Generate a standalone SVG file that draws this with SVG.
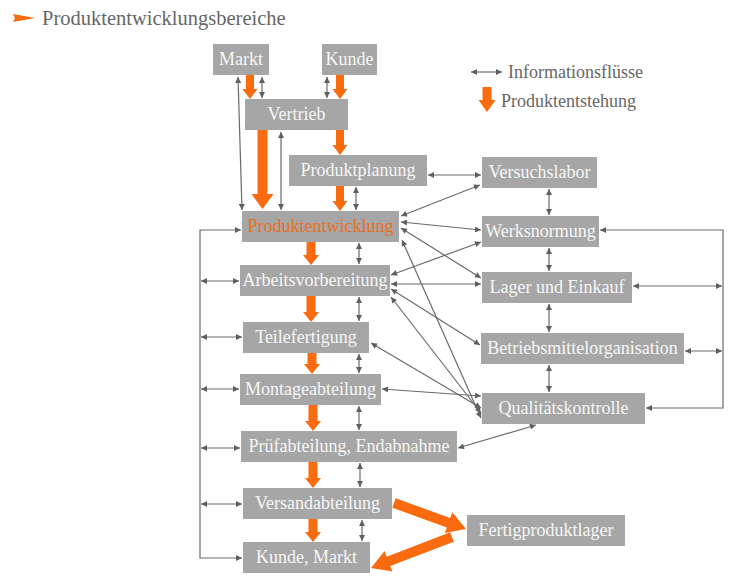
<svg xmlns="http://www.w3.org/2000/svg" width="750" height="580" viewBox="0 0 750 580">
<defs>
<style>
.box{fill:#a6a6a6}
.t{font-family:"Liberation Serif","Times New Roman",serif;font-size:18px;fill:#f7f7f7;text-anchor:middle}
.o{fill:#e8711f}
.lg{font-family:"Liberation Serif","Times New Roman",serif;font-size:18px;fill:#666}
.c{stroke:#6a6a6a;stroke-width:1.2;fill:none;marker-start:url(#ah);marker-end:url(#ah)}
.c1{stroke:#6a6a6a;stroke-width:1.2;fill:none}
.or{fill:#f96b0e}
</style>
<marker id="ah" viewBox="0 0 10 10" refX="10" refY="5" markerWidth="8" markerHeight="6" orient="auto-start-reverse" markerUnits="userSpaceOnUse"><path d="M0,0 L10,5 L0,10 z" fill="#5f5f5f"/></marker>
</defs>

<g id="title">
<polygon class="or" points="13,14 35,18 13,22 15,18"/>
<text x="42" y="25" class="lg" style="font-size:20.5px">Produktentwicklungsbereiche</text>
</g>

<g id="legend">
<line class="c" x1="471" y1="72" x2="502" y2="72"/>
<text x="508" y="78" class="lg">Informationsflüsse</text>
<polygon class="or" points="482.5,87 491.5,87 491.5,100 495.5,100 487,112 478.5,100 482.5,100"/>
<text x="501" y="107" class="lg">Produktentstehung</text>
</g>

<g id="connectors">
<line class="c" x1="262" y1="77" x2="262" y2="98"/>
<line class="c" x1="327" y1="77" x2="327" y2="98"/>
<line class="c" x1="238" y1="77" x2="242" y2="210"/>
<line class="c" x1="281" y1="132" x2="281" y2="210"/>
<line class="c" x1="356" y1="187" x2="356" y2="210"/>
<line class="c" x1="359" y1="243" x2="359" y2="264"/>
<line class="c" x1="359" y1="297" x2="359" y2="321"/>
<line class="c" x1="359" y1="354" x2="359" y2="373"/>
<line class="c" x1="359" y1="406" x2="359" y2="430"/>
<line class="c" x1="360" y1="463" x2="360" y2="487"/>
<line class="c" x1="362" y1="520" x2="362" y2="541"/>
<path class="c" d="M241 230 H200 V558 H242"/>
<line class="c" x1="201" y1="281" x2="239" y2="281"/>
<line class="c" x1="201" y1="337" x2="242" y2="337"/>
<line class="c" x1="201" y1="389" x2="239" y2="389"/>
<line class="c" x1="201" y1="448" x2="240" y2="448"/>
<line class="c" x1="201" y1="504" x2="242" y2="504"/>
<line class="c" x1="428" y1="175" x2="481" y2="175"/>
<line class="c" x1="480" y1="185" x2="401" y2="216"/>
<line class="c" x1="401" y1="222" x2="481" y2="230"/>
<line class="c" x1="401" y1="228" x2="481" y2="278"/>
<line class="c" x1="481" y1="242" x2="391" y2="275"/>
<line class="c" x1="391" y1="284" x2="481" y2="284"/>
<line class="c" x1="391" y1="289" x2="480" y2="345"/>
<line class="c" x1="391" y1="297" x2="481" y2="413"/>
<line class="c" x1="402" y1="240" x2="481" y2="418"/>
<line class="c" x1="371" y1="343" x2="481" y2="408"/>
<line class="c" x1="382" y1="389" x2="481" y2="396"/>
<line class="c" x1="458" y1="448" x2="536" y2="425"/>
<line class="c" x1="549" y1="189" x2="549" y2="215"/>
<line class="c" x1="549" y1="248" x2="549" y2="271"/>
<line class="c" x1="549" y1="304" x2="549" y2="332"/>
<line class="c" x1="549" y1="365" x2="549" y2="392"/>
<path class="c" d="M600 230 H723 V408 H646"/>
<line class="c" x1="633" y1="286" x2="722" y2="286"/>
<line class="c" x1="685" y1="351" x2="722" y2="351"/>
</g>

<g id="flow">
<polygon class="or" points="246,75 254,75 254,89 257.5,89 250,99 242.5,89 246,89"/>
<polygon class="or" points="336,75 344,75 344,89 347.5,89 340,99 332.5,89 336,89"/>
<polygon class="or" points="336,130 344,130 344,145 347.5,145 340,155 332.5,145 336,145"/>
<polygon class="or" points="336,186 344,186 344,201 347.5,201 340,211 332.5,201 336,201"/>
<polygon class="or" points="257.5,130 267.5,130 267.5,194 273.5,194 262.5,209 251.5,194 257.5,194"/>
<polygon class="or" points="306.5,242 315.5,242 315.5,255 319,255 311,265 303,255 306.5,255"/>
<polygon class="or" points="306.5,296 315.5,296 315.5,312 319,312 311,322 303,312 306.5,312"/>
<polygon class="or" points="307.5,353 316.5,353 316.5,364 320,364 312,374 304,364 307.5,364"/>
<polygon class="or" points="308.5,405 317.5,405 317.5,421 321,421 313,431 305,421 308.5,421"/>
<polygon class="or" points="308.5,462 317.5,462 317.5,478 321,478 313,488 305,478 308.5,478"/>
<polygon class="or" points="308.5,519 317.5,519 317.5,532 321,532 313,542 305,532 308.5,532"/>
<polygon class="or" transform="translate(394,503) rotate(19.86)" points="0,-5 58,-5 58,-11 76.6,0 58,11 58,5 0,5"/>
<polygon class="or" transform="translate(452,537) rotate(159.06)" points="0,-5 68,-5 68,-11 86.7,0 68,11 68,5 0,5"/>
</g>

<g id="markt"><rect class="box" x="213" y="44" width="56" height="31"/><text class="t" x="241" y="65">Markt</text></g>
<g id="kunde"><rect class="box" x="322" y="44" width="55" height="31"/><text class="t" x="349.5" y="65">Kunde</text></g>
<g id="vertrieb"><rect class="box" x="245" y="99" width="103" height="31"/><text class="t" x="296.5" y="120">Vertrieb</text></g>
<g id="produktplanung"><rect class="box" x="289" y="155" width="138" height="31"/><text class="t" x="358" y="176">Produktplanung</text></g>
<g id="produktentwicklung"><rect class="box" x="242" y="211" width="157" height="31"/><text class="t o" x="320.5" y="232">Produktentwicklung</text></g>
<g id="arbeitsvorbereitung"><rect class="box" x="240" y="265" width="150" height="31"/><text class="t" x="315" y="286">Arbeitsvorbereitung</text></g>
<g id="teilefertigung"><rect class="box" x="243" y="322" width="126" height="31"/><text class="t" x="306" y="343">Teilefertigung</text></g>
<g id="montageabteilung"><rect class="box" x="240" y="374" width="141" height="31"/><text class="t" x="310.5" y="395">Montageabteilung</text></g>
<g id="pruefabteilung"><rect class="box" x="241" y="431" width="216" height="31"/><text class="t" x="349" y="452">Prüfabteilung, Endabnahme</text></g>
<g id="versandabteilung"><rect class="box" x="243" y="488" width="149" height="31"/><text class="t" x="317.5" y="509">Versandabteilung</text></g>
<g id="kunde-markt"><rect class="box" x="243" y="542" width="127" height="31"/><text class="t" x="306.5" y="563">Kunde, Markt</text></g>
<g id="versuchslabor"><rect class="box" x="482" y="157" width="115" height="31"/><text class="t" x="539.5" y="178">Versuchslabor</text></g>
<g id="werksnormung"><rect class="box" x="482" y="216" width="117" height="31"/><text class="t" x="540.5" y="237">Werksnormung</text></g>
<g id="lager-einkauf"><rect class="box" x="482" y="272" width="150" height="31"/><text class="t" x="557" y="293">Lager und Einkauf</text></g>
<g id="betriebsmittelorganisation"><rect class="box" x="481" y="333" width="203" height="31"/><text class="t" x="582.5" y="354">Betriebsmittelorganisation</text></g>
<g id="qualitaetskontrolle"><rect class="box" x="482" y="393" width="163" height="31"/><text class="t" x="563.5" y="414">Qualitätskontrolle</text></g>
<g id="fertigproduktlager"><rect class="box" x="467" y="515" width="158" height="31"/><text class="t" x="546" y="536">Fertigproduktlager</text></g>
</svg>
